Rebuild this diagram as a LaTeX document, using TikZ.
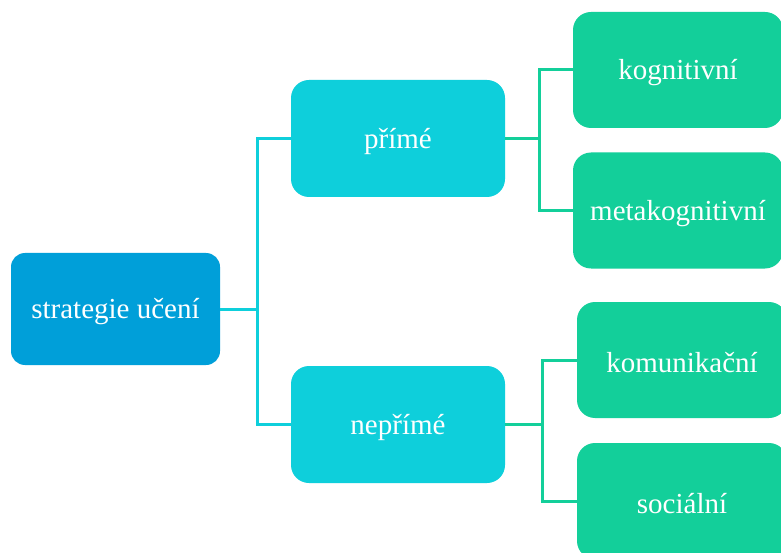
\documentclass[tikz,border=0pt]{standalone}
\usepackage{fontspec}
\setmainfont{Liberation Serif}
\definecolor{rootblue}{HTML}{009FD9}
\definecolor{midcyan}{HTML}{0ECFDB}
\definecolor{leafgreen}{HTML}{13CF9A}
\newcommand\boxtext[1]{\raisebox{-3pt}[\height][\depth]{#1}}
\begin{document}
\begin{tikzpicture}[x=1pt,y=-1pt,
  box/.style={rectangle,rounded corners=16pt,inner sep=0pt,text=white,
    font=\fontsize{29}{33}\selectfont,anchor=center},
  rootbox/.style={box,fill=rootblue,minimum width=209pt,minimum height=112pt,rounded corners=14pt},
  midbox/.style={box,fill=midcyan,minimum width=214pt,minimum height=117pt,rounded corners=18pt},
  leafbox/.style={box,fill=leafgreen,minimum width=210pt,minimum height=116pt,rounded corners=18pt},
  cyanline/.style={draw=midcyan,line width=3pt},
  greenline/.style={draw=leafgreen,line width=3pt}]
\clip (0,0) rectangle (781,553);
\fill[white] (0,0) rectangle (781,553);
\node[rootbox] (root) at (115.5,309) {\boxtext{strategie učení}};
\node[midbox] (prime) at (398,138.5) {\boxtext{přímé}};
\node[midbox] (neprime) at (398,424.5) {\boxtext{nepřímé}};
\node[leafbox] (kog) at (678,70) {\boxtext{kognitivní}};
\node[leafbox] (meta) at (678,210.5) {\boxtext{metakognitivní}};
\node[leafbox] (kom) at (682,360) {\boxtext{komunikační}};
\node[leafbox] (soc) at (682,501) {\boxtext{sociální}};
\coordinate (j1) at (257,309);
\coordinate (j2) at (539,138.5);
\coordinate (j3) at (542,424.5);
\draw[cyanline] (root.east) -- (j1) |- (prime.west);
\draw[cyanline] (j1) |- (neprime.west);
\draw[greenline] (prime.east) -- (j2) |- (kog.west);
\draw[greenline] (j2) |- (meta.west);
\draw[greenline] (neprime.east) -- (j3) |- (kom.west);
\draw[greenline] (j3) |- (soc.west);
\end{tikzpicture}
\end{document}
